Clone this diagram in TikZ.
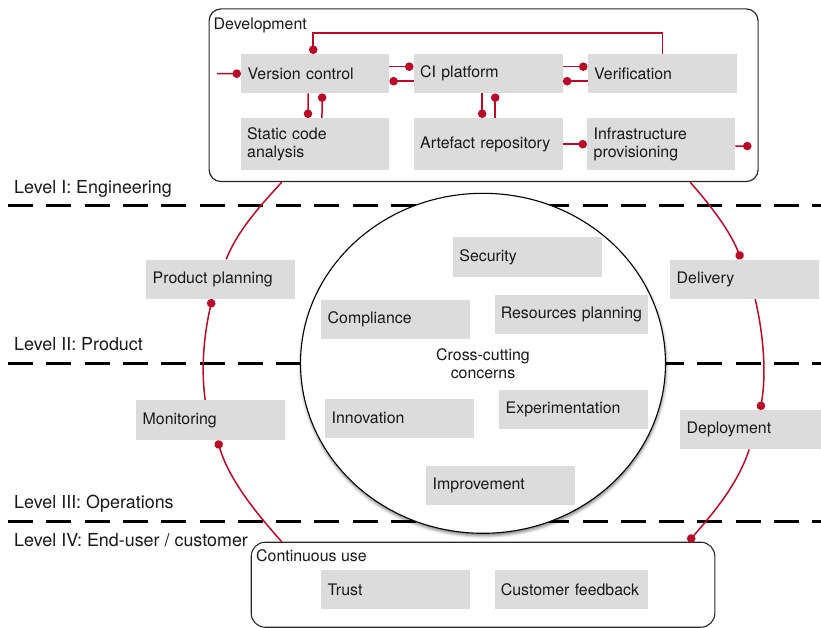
\documentclass[tikz,border=0pt]{standalone}
\usepackage{fontspec}
\setmainfont{TeX Gyre Heros}
\usetikzlibrary{arrows.meta,shapes.geometric,shadows.blur}
\definecolor{boxgray}{RGB}{220,220,220}
\definecolor{redc}{RGB}{185,10,40}
\definecolor{txt}{RGB}{25,25,25}
\definecolor{frame}{RGB}{40,40,40}
\newcommand\boxfnt{\fontsize{15.9}{17.8}\selectfont}
\newcommand\lvlfnt{\fontsize{17.9}{20}\selectfont}
\newcommand\grpfnt{\fontsize{15.9}{18}\selectfont}
\begin{document}
\begin{tikzpicture}[x=1pt,y=-1pt,
  gb/.style={fill=boxgray, anchor=north west, inner xsep=6.5pt, inner ysep=0pt,
    align=left, font=\boxfnt, text=txt, minimum height=39pt, text width=136pt},
  rl/.style={draw=redc, line width=1.5pt},
  dot/.style={-{Circle[length=8.5pt,width=8.5pt]}},
  lvl/.style={anchor=base west, inner sep=0pt, font=\lvlfnt, text=txt},
  grp/.style={anchor=base west, inner sep=0pt, font=\grpfnt, text=txt},
  dl/.style={line width=3pt, dash pattern=on 25pt off 13.3pt}]
\useasboundingbox (0,0) rectangle (821,628);

% level separators
\draw[dl] (8,205.7) -- (821,205.7);
\draw[dl] (8,363.3) -- (821,363.3);
\draw[dl] (8,521.3) -- (821,521.3);

\node[lvl] (l1) at (14,193.5) {Level I: Engineering};
\node[lvl] (l2) at (14,350.5) {Level II: Product};
\node[lvl] (l3) at (14,508.5) {Level III: Operations};
\node[lvl] (l4) at (14,546.7) {Level IV: End-user / customer};

% cross-cutting concerns
\node[ellipse, draw=black, line width=1.1pt, fill=white, minimum width=365pt, minimum height=340pt,
  blur shadow={shadow xshift=0.5pt, shadow yshift=-2.5pt, shadow blur radius=3pt, shadow opacity=50},
  align=center, font=\boxfnt, text=txt] (cc) at (483,363.3) {Cross-cutting\\concerns};

\node[gb] (sec)  at (452.7,237.3) {Security};
\node[gb] (comp) at (321,300) {Compliance};
\node[gb, text width=141.5pt, inner xsep=5.6pt] (res) at (495,295) {Resources planning};
\node[gb] (inno) at (325,398.3) {Innovation};
\node[gb] (exp)  at (499,389.3) {Experimentation};
\node[gb] (impr) at (426,466) {Improvement};

% outer ring boxes
\node[gb, minimum height=39.4pt] (pp)  at (146,259.3) {Product planning};
\node[gb, minimum height=39.4pt] (del) at (670,259.3) {Delivery};
\node[gb, text width=128pt] (dep) at (680,410) {Deployment};
\node[gb, minimum height=40pt] (mon) at (136,400) {Monitoring};

% development group
\node[draw=frame, line width=1.2pt, rounded corners=12pt, anchor=north west,
  minimum width=549pt, minimum height=172.7pt, inner sep=0pt] (dev) at (208.5,8.3) {};
\node[grp] (devt) at (213.5,29.5) {Development};
\node[gb, text width=135pt] (vc)  at (241,54) {Version control};
\node[gb] (ci)  at (413.5,54) {CI platform};
\node[gb, text width=136.5pt] (ver) at (587.5,54) {Verification};
\node[gb, text width=135.5pt, minimum height=52pt] (sca) at (240.5,118) {Static code\\analysis};
\node[gb, minimum height=52pt] (art) at (413.5,118) {Artefact repository};
\node[gb, text width=135pt, minimum height=52pt] (inf) at (587,118) {Infrastructure\\provisioning};

% continuous use group
\node[draw=frame, line width=1.1pt, rounded corners=14pt, anchor=north west,
  minimum width=463.6pt, minimum height=85pt, inner sep=0pt] (cu) at (250.7,541.7) {};
\node[grp] (cut) at (256,561) {Continuous use};
\node[gb] (trust) at (321,570) {Trust};
\node[gb, text width=141.5pt, inner xsep=5.6pt] (cf) at (495,570) {Customer feedback};

% connectors inside development
\coordinate (vin) at (217,73.5);
\coordinate (iout) at (751.5,146);
\draw[rl,dot] (vin) -- (vc.west);
\draw[rl,dot] (ver.north) -- ([yshift=21pt]ver.north) -| ([xshift=-2pt]vc.north);
\draw[rl,dot] ([yshift=7pt]vc.east) -- ([yshift=7pt]ci.west);
\draw[rl,dot] ([yshift=-7.5pt]ci.west) -- ([yshift=-7.5pt]vc.east);
\draw[rl,dot] ([yshift=7pt]ci.east) -- ([yshift=7pt]ver.west);
\draw[rl,dot] ([yshift=-7.5pt]ver.west) -- ([yshift=-7.5pt]ci.east);
\draw[rl,dot] ([xshift=-7pt]vc.south) -- ([xshift=-7pt]sca.north);
\draw[rl,dot] ([xshift=7pt]sca.north) -- ([xshift=7pt]vc.south);
\draw[rl,dot] ([xshift=-6pt]ci.south) -- ([xshift=-6pt]art.north);
\draw[rl,dot] ([xshift=7pt]art.north) -- ([xshift=7pt]ci.south);
\draw[rl,dot] (art.east) -- (inf.west);
\draw[rl,dot] ([yshift=-2pt]inf.east) -- (iout);

% outer loop
\draw[rl] ([xshift=73.2pt]dev.south west) .. controls +(-21.4,23.7) and +(11.9,-29.7) .. ([xshift=5.5pt]pp.north);
\draw[rl,dot] ([xshift=-5.5pt]mon.north) .. controls +(-4.6,-33.6) and +(-7.7,33.2) .. ([xshift=-8.5pt]pp.south);
\draw[rl,dot] ([xshift=31pt]cu.north west) .. controls +(-26.7,-29.8) and +(11.3,38.4) .. ([xshift=6.8pt]mon.south);
\draw[rl,dot] ([xshift=-1.5pt]dep.south) .. controls +(-11.5,35.2) and +(24.3,-27.9) .. ([xshift=-27pt]cu.north east);
\draw[rl,dot] ([xshift=10.5pt]del.south) .. controls +(8.4,36.1) and +(6.3,-36.4) .. ([xshift=9.5pt]dep.north);
\draw[rl,dot] ([xshift=-68.5pt]dev.south east) .. controls +(20.4,23.3) and +(-11.4,-28.8) .. ([xshift=-3.5pt]del.north);
\end{tikzpicture}
\end{document}
